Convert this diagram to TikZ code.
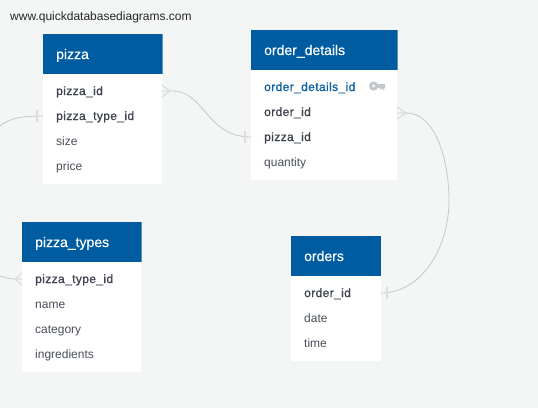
\documentclass[tikz,border=0pt]{standalone}
\usepackage{fontspec}
\setmainfont{Liberation Sans}
\newfontfamily\medfont[FakeBold=1.1,LetterSpace=3.2]{Liberation Sans}
\newfontfamily\headfont[FakeBold=0.3]{Liberation Sans}
\definecolor{bgc}{HTML}{F4F6F6}
\definecolor{headc}{HTML}{005CA1}
\definecolor{headedge}{HTML}{5C96C4}
\definecolor{txtc}{HTML}{4A4F59}
\definecolor{keyc}{HTML}{3F444E}
\definecolor{pkc}{HTML}{0F62A5}
\definecolor{linec}{HTML}{C6C8C8}
\definecolor{barc}{HTML}{DBDEDE}
\definecolor{iconc}{HTML}{C3C7CC}
\tikzset{
  x=1pt,y=-1pt,
  tablebody/.style={fill=white,draw=none,anchor=north west,inner sep=0pt,minimum width=#1,text width=#1},
  tablehead/.style={fill=headc,draw=none,anchor=north west,inner sep=0pt,minimum width=#1,minimum height=40pt},
  headtext/.style={text=white,anchor=base west,inner sep=0pt,font=\fontsize{14}{16}\headfont},
  fieldtext/.style={text=txtc,anchor=base west,inner sep=0pt,font=\fontsize{12}{14}\selectfont},
  keytext/.style={fieldtext,text=keyc,font=\fontsize{12}{14}\medfont},
  pktext/.style={keytext,text=pkc},
  conn/.style={draw=linec,line width=0.8pt},
  crow/.style={draw=barc,line width=1.2pt},
  bar/.style={draw=barc,line width=2pt},
  edgeline/.style={draw=headedge,line width=0.7pt},
}
\begin{document}
\begin{tikzpicture}
\useasboundingbox (0,0) rectangle (538,408);
\fill[bgc] (0,0) rectangle (538,408);
\node[anchor=base west,inner sep=0pt,text=black!85,font=\fontsize{12}{14}\selectfont] (site) at (10,20) {www.quickdatabasediagrams.com};

% pizza
\node[tablebody=119pt,minimum height=110pt] (pizzabody) at (43,74) {};
\node[tablehead=119pt] (pizzahead) at (43,34) {};
\draw[edgeline] (pizzahead.north east) -- (pizzahead.south east);
\node[headtext] (pizzatitle) at (56,59) {pizza};
\node[keytext] (pizzaf1) at (56,95) {pizza\_id};
\node[keytext] (pizzaf2) at (56,120) {pizza\_type\_id};
\node[fieldtext] (pizzaf3) at (56,145) {size};
\node[fieldtext] (pizzaf4) at (56,170) {price};

% order_details
\node[tablebody=146pt,minimum height=110pt] (odbody) at (251,70) {};
\node[tablehead=146pt] (odhead) at (251,30) {};
\draw[edgeline] (odhead.north east) -- (odhead.south east);
\node[headtext] (odtitle) at (264,55) {order\_details};
\node[pktext] (odf1) at (264,91) {order\_details\_id};
\node[keytext] (odf2) at (264,116) {order\_id};
\node[keytext] (odf3) at (264,141) {pizza\_id};
\node[fieldtext] (odf4) at (264,166) {quantity};

% pizza_types
\node[tablebody=119pt,minimum height=110pt] (ptbody) at (22,262) {};
\node[tablehead=119pt] (pthead) at (22,222) {};
\draw[edgeline] (pthead.north east) -- (pthead.south east);
\node[headtext] (pttitle) at (35,247) {pizza\_types};
\node[keytext] (ptf1) at (35,283) {pizza\_type\_id};
\node[fieldtext] (ptf2) at (35,308) {name};
\node[fieldtext] (ptf3) at (35,333) {category};
\node[fieldtext] (ptf4) at (35,358) {ingredients};

% orders
\node[tablebody=90pt,minimum height=85pt] (ordbody) at (291,276) {};
\node[tablehead=90pt] (ordhead) at (291,236) {};
\node[headtext] (ordtitle) at (304,261) {orders};
\node[keytext] (ordf1) at (304,297) {order\_id};
\node[fieldtext] (ordf2) at (304,322) {date};
\node[fieldtext] (ordf3) at (304,347) {time};

% connector end points
\coordinate (pizzaR) at (162,91);
\coordinate (pizzaTip) at (170,91);
\coordinate (odL) at (251,137);
\coordinate (odR) at (397,113);
\coordinate (odTip) at (406,113);
\coordinate (ordR) at (381,293);
\coordinate (pizzaL) at (43,116);
\coordinate (ptL) at (22,279);
\coordinate (ptTip) at (15,279);
\coordinate (offA) at (0,126);
\coordinate (offB) at (0,276);

% connectors
\draw[conn] (pizzaTip) .. controls (205,89) and (205,137) .. (odL);
\draw[conn] (odTip) .. controls (435,112) and (449,160) .. (449,200) .. controls (449,250) and (420,293) .. (ordR);
\draw[conn] (pizzaL) .. controls (22,116) and (10,118) .. (offA);
\draw[conn] (ptTip) .. controls (8,279) and (4,277) .. (offB);

% crow's feet and bars
\draw[crow] (162,85) -- (pizzaTip) -- (162,97) (pizzaR) -- (pizzaTip);
\draw[crow] (397,107) -- (odTip) -- (397,119) (odR) -- (odTip);
\draw[crow] (22,273) -- (ptTip) -- (22,285) (ptL) -- (ptTip);
\draw[bar] (245,131) -- (245,143);
\draw[bar] (387,287) -- (387,299);
\draw[bar] (37,110) -- (37,122);

% key icon
\fill[iconc,even odd rule] (373.6,86) circle (4.6) (373.6,86) circle (1.7);
\fill[iconc] (377,84) -- (385,84) -- (385,87.6) -- (383.6,90) -- (382.4,88.2) -- (381,90) -- (380,88) -- (377,88) -- cycle;
\end{tikzpicture}
\end{document}
